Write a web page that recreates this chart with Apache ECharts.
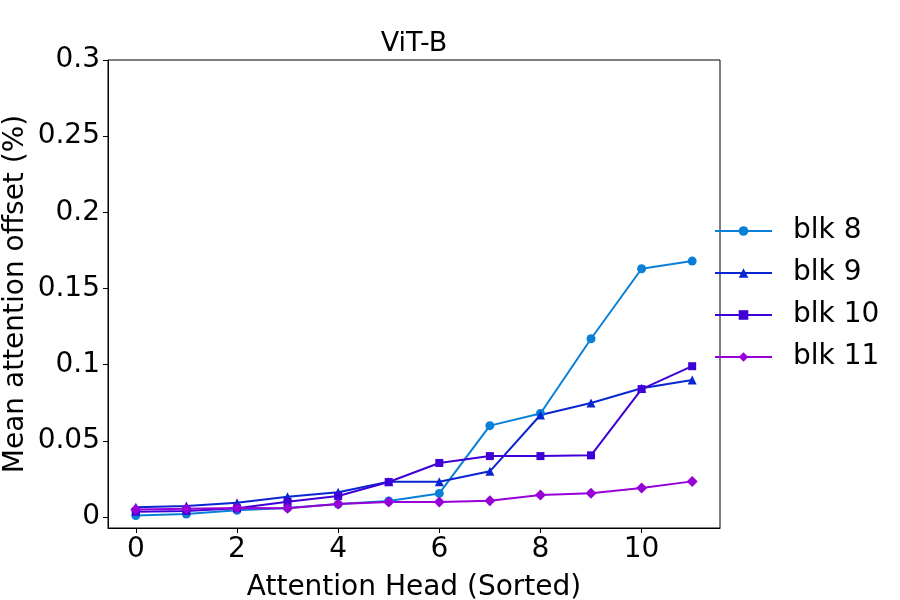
<!DOCTYPE html>
<html>
<head>
<meta charset="utf-8">
<script src="https://cdn.jsdelivr.net/npm/echarts@6/dist/echarts.min.js"></script>
<style>
  html, body { margin: 0; padding: 0; background: #fff; }
  #main { width: 900px; height: 600px; }
</style>
</head>
<body>
<div id="main"></div>
<script>
var heads = [0, 1, 2, 3, 4, 5, 6, 7, 8, 9, 10, 11];
var blk8 = [0.001, 0.002, 0.0044, 0.006, 0.0085, 0.0105, 0.0155, 0.060, 0.068, 0.117, 0.163, 0.168];
var blk9 = [0.0065, 0.0072, 0.0094, 0.0133, 0.0163, 0.0232, 0.0232, 0.030, 0.067, 0.0748, 0.0845, 0.090];
var blk10 = [0.0035, 0.004, 0.0057, 0.010, 0.0138, 0.023, 0.0355, 0.040, 0.040, 0.0405, 0.084, 0.099];
var blk11 = [0.005, 0.0055, 0.006, 0.0058, 0.0085, 0.0098, 0.0098, 0.0107, 0.0144, 0.0156, 0.019, 0.0234];
var xTicks = [0, 2, 4, 6, 8, 10];
var yTicks = [0, 0.05, 0.1, 0.15, 0.2, 0.25, 0.3];

var FONT = 'DejaVu Sans';
var FS = 28;

function pairs(vals) {
    var out = [];
    for (var i = 0; i < heads.length; i++) out.push([heads[i], vals[i]]);
    return out;
}

function mkSeries(name, vals, color, symbol, size) {
    return {
        name: name,
        type: 'line',
        data: pairs(vals),
        symbol: symbol,
        symbolSize: size,
        showAllSymbol: true,
        lineStyle: { color: color, width: 2 },
        itemStyle: { color: color },
        emphasis: { disabled: true },
        animation: false
    };
}

var chart = echarts.init(document.getElementById('main'));
chart.setOption({
    backgroundColor: '#fff',
    textStyle: { fontFamily: FONT },
    title: {
        text: 'ViT-B',
        left: 409,
        textAlign: 'center',
        top: 25,
        textStyle: { fontFamily: FONT, fontSize: 27, fontWeight: 'normal', color: '#000' }
    },
    legend: {
        orient: 'vertical',
        left: 709,
        top: 212,
        itemWidth: 57,
        itemHeight: 12,
        itemGap: 14,
        textStyle: { fontFamily: FONT, fontSize: FS, color: '#000', padding: [0, 0, 0, 16] },
        data: ['blk 8', 'blk 9', 'blk 10', 'blk 11']
    },
    grid: {
        left: 108, right: 180, top: 60, bottom: 72,
        outerBoundsMode: 'none',
        containLabel: false,
        show: true, borderColor: '#000', borderWidth: 1, backgroundColor: 'transparent'
    },
    xAxis: {
        type: 'value',
        min: -0.55,
        max: 11.55,
        name: 'Attention Head (Sorted)',
        nameLocation: 'middle',
        nameGap: 46,
        nameTextStyle: { fontFamily: FONT, fontSize: FS, color: '#000' },
        axisLine: { show: true, onZero: false, lineStyle: { color: '#000', width: 1 } },
        axisTick: { show: true, length: 5, customValues: xTicks, lineStyle: { color: '#000' } },
        axisLabel: { customValues: xTicks, fontFamily: FONT, fontSize: FS, color: '#000', margin: 8 },
        splitLine: { show: false }
    },
    yAxis: {
        type: 'value',
        min: -0.0072,
        max: 0.3,
        name: 'Mean attention offset (%)',
        nameLocation: 'middle',
        nameGap: 78,
        nameMoveOverlap: false,
        nameTextStyle: { fontFamily: FONT, fontSize: FS, color: '#000' },
        axisLine: { show: true, onZero: false, lineStyle: { color: '#000', width: 1 } },
        axisTick: { show: true, length: 5, customValues: yTicks, lineStyle: { color: '#000' } },
        axisLabel: {
            customValues: yTicks, fontFamily: FONT, fontSize: FS, color: '#000', margin: 8,
            formatter: function (v) { return String(+v.toFixed(2)); }
        },
        splitLine: { show: false }
    },
    series: [
        mkSeries('blk 8', blk8, '#0880d8', 'circle', 9),
        mkSeries('blk 9', blk9, '#0a26d2', 'triangle', 9),
        mkSeries('blk 10', blk10, '#3f00d8', 'rect', 8),
        mkSeries('blk 11', blk11, '#9800d8', 'diamond', 11)
    ]
});
</script>
</body>
</html>
